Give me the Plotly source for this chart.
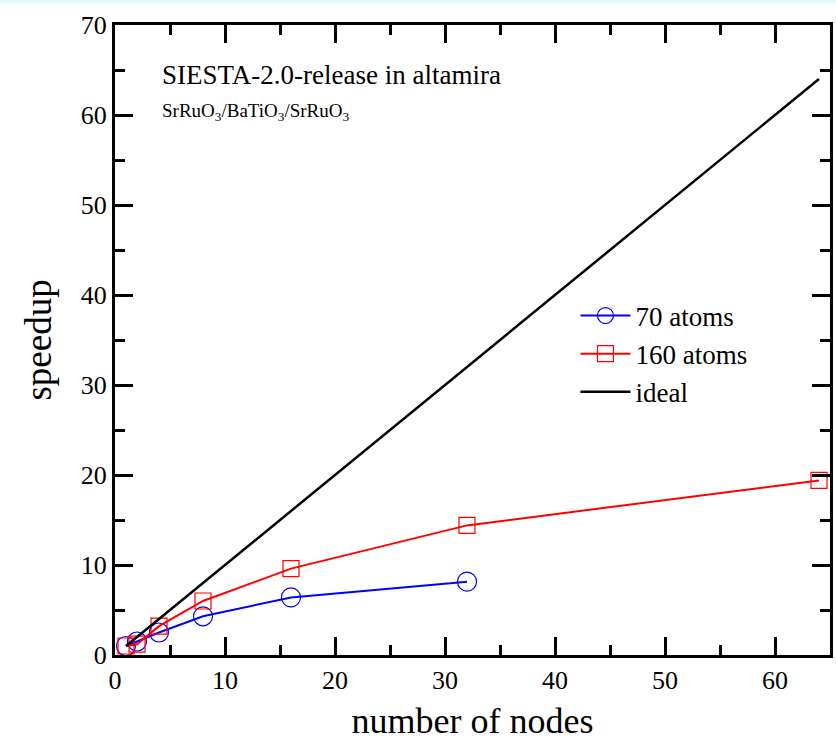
import plotly.graph_objects as go

nodes_70 = [1, 2, 4, 8, 16, 32]
speedup_70 = [1.0, 1.5, 2.5, 4.3, 6.4, 8.15]
nodes_160 = [1, 2, 4, 8, 16, 32, 64]
speedup_160 = [1.0, 1.2, 3.2, 6.0, 9.6, 14.4, 19.4]
nodes_ideal = [1, 64]
speedup_ideal = [1, 64]

FONT = "Liberation Serif, Times New Roman, serif"

fig = go.Figure()
fig.add_trace(go.Scatter(
    x=nodes_70, y=speedup_70, mode="lines+markers", name="70 atoms",
    line=dict(color="#0000ff", width=2),
    marker=dict(symbol="circle-open", size=19, color="#0000ff", line=dict(width=1.2))))
fig.add_trace(go.Scatter(
    x=nodes_160, y=speedup_160, mode="lines+markers", name="160 atoms",
    line=dict(color="#ff0000", width=2),
    marker=dict(symbol="square-open", size=16, color="#ff0000", line=dict(width=1.2))))
fig.add_trace(go.Scatter(
    x=nodes_ideal, y=speedup_ideal, mode="lines", name="ideal",
    line=dict(color="#000000", width=2.5)))

axis_common = dict(
    showgrid=False, zeroline=False, showline=True, linecolor="black", linewidth=3,
    mirror="ticks", ticks="inside", ticklen=18, tickwidth=2.5, tickcolor="black",
    tickfont=dict(family=FONT, size=26, color="black"), automargin=False,
)
fig.update_xaxes(range=[0, 65], dtick=10, tick0=0,
                 minor=dict(ticks="inside", ticklen=10, tickwidth=2.5, dtick=5, tickcolor="black"),
                 title=dict(text="number of nodes", font=dict(family=FONT, size=36, color="black"), standoff=14),
                 **axis_common)
fig.update_yaxes(range=[0, 70], dtick=10, tick0=0,
                 minor=dict(ticks="inside", ticklen=10, tickwidth=2.5, dtick=5, tickcolor="black"),
                 title=dict(text="speedup", font=dict(family=FONT, size=37, color="black"), standoff=18),
                 **axis_common)

fig.add_annotation(x=0.063, y=0.92, xref="paper", yref="paper", xanchor="left", yanchor="middle",
                   text="SIESTA-2.0-release in altamira", showarrow=False,
                   font=dict(family=FONT, size=27, color="black"))
fig.add_annotation(x=0.063, y=0.862, xref="paper", yref="paper", xanchor="left", yanchor="middle",
                   text="SrRuO<sub>3</sub>/BaTiO<sub>3</sub>/SrRuO<sub>3</sub>", showarrow=False,
                   font=dict(family=FONT, size=19, color="black"))

fig.add_shape(type="line", xref="paper", yref="paper", x0=-0.2, x1=1.1, y0=1.0381, y1=1.0381,
              line=dict(color="#dff8fb", width=3))

fig.update_layout(
    width=836, height=743,
    margin=dict(l=115, r=6, t=25, b=88, autoexpand=False),
    paper_bgcolor="white", plot_bgcolor="white",
    font=dict(family=FONT, color="black"),
    legend=dict(x=0.644, y=0.577, xanchor="left", yanchor="top",
                font=dict(family=FONT, size=27, color="black"),
                bgcolor="rgba(0,0,0,0)", itemwidth=50, tracegroupgap=0),
    showlegend=True,
)

fig.write_html("out.html", config={"displayModeBar": False},
               post_script="document.body.style.margin='0';document.body.style.overflow='hidden';")
